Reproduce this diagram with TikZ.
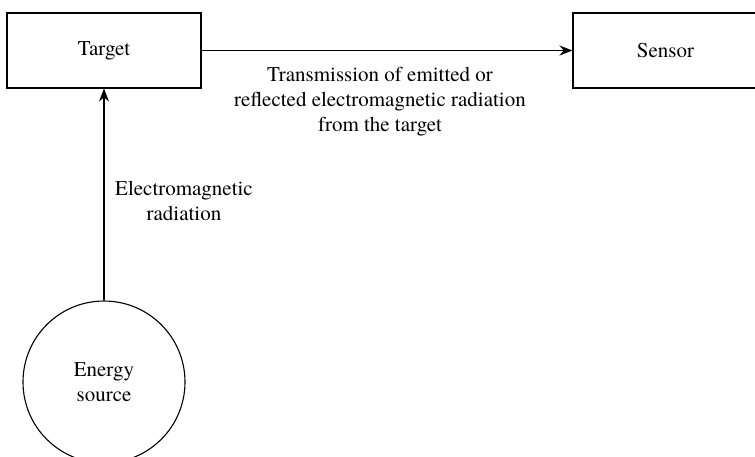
\documentclass[tikz,border=0pt]{standalone}
\usepackage{fontspec}
\setmainfont{TeX Gyre Termes}
\usetikzlibrary{arrows.meta}
\begin{document}
\begin{tikzpicture}[x=1pt,y=-1pt,
  every node/.style={font=\fontsize{21}{25}\selectfont, align=center, inner sep=0pt},
  box/.style={draw, line width=1.1pt},
  conn/.style={line width=1.1pt, -{Stealth[length=13pt,width=10pt]}}]
\useasboundingbox (0,0) rectangle (755,456);
\clip (0,0) rectangle (755,456);
\node[box, minimum width=194pt, minimum height=75pt] (target) at (104,50.5) {Target};
\node[box, minimum width=185pt, minimum height=75pt] (sensor) at (665.5,50.5) {Sensor};
\node[draw, circle, line width=1.1pt, minimum size=162pt] (source) at (104,382) {Energy\\source};
\draw[conn] (source.north) -- (target.south);
\draw[conn] (target.east) -- (sensor.west);
\node (lab1) at (184,200.5) {Electromagnetic\\radiation};
\node (lab2) at (380,102) {Transmission of emitted or\\reflected electromagnetic radiation\\from the target};
\end{tikzpicture}
\end{document}
